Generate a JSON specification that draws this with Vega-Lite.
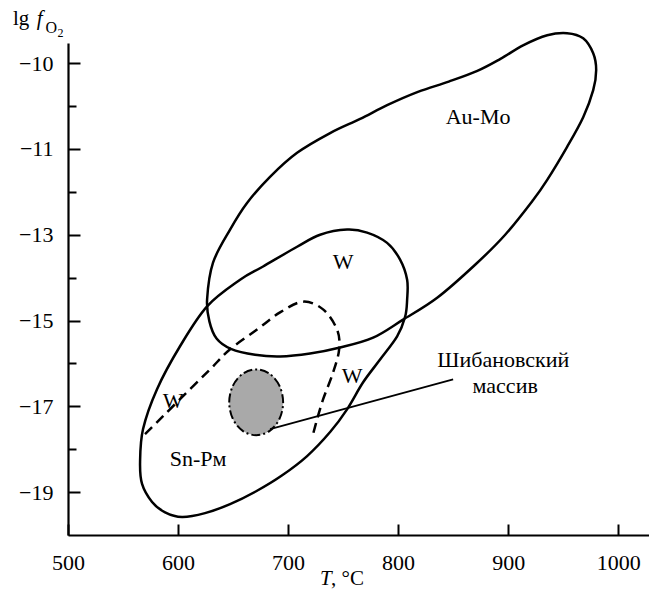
{
  "$schema": "https://vega.github.io/schema/vega-lite/v6.json",
  "width": 581,
  "height": 492,
  "autosize": {"type": "none"},
  "padding": {"left": 68, "top": 43, "right": 0, "bottom": 57},
  "config": {
    "view": {"stroke": null},
    "axis": {"grid": false, "domainColor": "#000", "domainWidth": 2.2, "tickColor": "#000", "tickWidth": 2, "labelColor": "#000", "labelFont": "Liberation Serif", "labelFontSize": 22, "title": null},
    "text": {"font": "Liberation Serif", "color": "#000"}
  },
  "datasets": {
    "curves": [
      {"shape": "AuMo", "i": 0, "T": 626.4, "v": -14.51},
      {"shape": "AuMo", "i": 1, "T": 631.8, "v": -13.65},
      {"shape": "AuMo", "i": 2, "T": 647.3, "v": -12.88},
      {"shape": "AuMo", "i": 3, "T": 662.7, "v": -12.26},
      {"shape": "AuMo", "i": 4, "T": 683.6, "v": -11.65},
      {"shape": "AuMo", "i": 5, "T": 708.2, "v": -11.09},
      {"shape": "AuMo", "i": 6, "T": 738.2, "v": -10.63},
      {"shape": "AuMo", "i": 7, "T": 765.5, "v": -10.30},
      {"shape": "AuMo", "i": 8, "T": 790.0, "v": -9.98},
      {"shape": "AuMo", "i": 9, "T": 818.0, "v": -9.67},
      {"shape": "AuMo", "i": 10, "T": 846.0, "v": -9.43},
      {"shape": "AuMo", "i": 11, "T": 872.0, "v": -9.18},
      {"shape": "AuMo", "i": 12, "T": 893.0, "v": -8.90},
      {"shape": "AuMo", "i": 13, "T": 914.0, "v": -8.58},
      {"shape": "AuMo", "i": 14, "T": 935.5, "v": -8.35},
      {"shape": "AuMo", "i": 15, "T": 953.6, "v": -8.30},
      {"shape": "AuMo", "i": 16, "T": 968.2, "v": -8.42},
      {"shape": "AuMo", "i": 17, "T": 977.3, "v": -8.77},
      {"shape": "AuMo", "i": 18, "T": 980.0, "v": -9.16},
      {"shape": "AuMo", "i": 19, "T": 977.3, "v": -9.63},
      {"shape": "AuMo", "i": 20, "T": 968.2, "v": -10.26},
      {"shape": "AuMo", "i": 21, "T": 953.6, "v": -10.95},
      {"shape": "AuMo", "i": 22, "T": 935.5, "v": -11.72},
      {"shape": "AuMo", "i": 23, "T": 922.7, "v": -12.19},
      {"shape": "AuMo", "i": 24, "T": 897.3, "v": -13.0},
      {"shape": "AuMo", "i": 25, "T": 870.0, "v": -13.70},
      {"shape": "AuMo", "i": 26, "T": 835.5, "v": -14.47},
      {"shape": "AuMo", "i": 27, "T": 804.5, "v": -14.98},
      {"shape": "AuMo", "i": 28, "T": 777.3, "v": -15.40},
      {"shape": "AuMo", "i": 29, "T": 747.3, "v": -15.63},
      {"shape": "AuMo", "i": 30, "T": 720.0, "v": -15.77},
      {"shape": "AuMo", "i": 31, "T": 692.7, "v": -15.84},
      {"shape": "AuMo", "i": 32, "T": 670.0, "v": -15.80},
      {"shape": "AuMo", "i": 33, "T": 648.0, "v": -15.66},
      {"shape": "AuMo", "i": 34, "T": 635.0, "v": -15.42},
      {"shape": "AuMo", "i": 35, "T": 628.5, "v": -15.02},
      {"shape": "WSn", "i": 0, "T": 565.5, "v": -18.30},
      {"shape": "WSn", "i": 1, "T": 568.2, "v": -17.53},
      {"shape": "WSn", "i": 2, "T": 580.9, "v": -16.60},
      {"shape": "WSn", "i": 3, "T": 601.8, "v": -15.60},
      {"shape": "WSn", "i": 4, "T": 626.4, "v": -14.67},
      {"shape": "WSn", "i": 5, "T": 656.4, "v": -14.05},
      {"shape": "WSn", "i": 6, "T": 677.3, "v": -13.74},
      {"shape": "WSn", "i": 7, "T": 708.2, "v": -13.28},
      {"shape": "WSn", "i": 8, "T": 729.1, "v": -13.0},
      {"shape": "WSn", "i": 9, "T": 753.6, "v": -12.88},
      {"shape": "WSn", "i": 10, "T": 771.8, "v": -12.95},
      {"shape": "WSn", "i": 11, "T": 790.0, "v": -13.19},
      {"shape": "WSn", "i": 12, "T": 801.8, "v": -13.58},
      {"shape": "WSn", "i": 13, "T": 808.2, "v": -14.05},
      {"shape": "WSn", "i": 14, "T": 808.2, "v": -14.51},
      {"shape": "WSn", "i": 15, "T": 806.4, "v": -14.91},
      {"shape": "WSn", "i": 16, "T": 799.1, "v": -15.37},
      {"shape": "WSn", "i": 17, "T": 783.6, "v": -15.91},
      {"shape": "WSn", "i": 18, "T": 768.2, "v": -16.44},
      {"shape": "WSn", "i": 19, "T": 753.6, "v": -17.07},
      {"shape": "WSn", "i": 20, "T": 738.2, "v": -17.60},
      {"shape": "WSn", "i": 21, "T": 717.3, "v": -18.16},
      {"shape": "WSn", "i": 22, "T": 694.0, "v": -18.62},
      {"shape": "WSn", "i": 23, "T": 671.0, "v": -18.98},
      {"shape": "WSn", "i": 24, "T": 647.3, "v": -19.28},
      {"shape": "WSn", "i": 25, "T": 624.5, "v": -19.49},
      {"shape": "WSn", "i": 26, "T": 603.6, "v": -19.58},
      {"shape": "WSn", "i": 27, "T": 588.2, "v": -19.47},
      {"shape": "WSn", "i": 28, "T": 576.4, "v": -19.23},
      {"shape": "WSn", "i": 29, "T": 567.3, "v": -18.81}
    ],
    "dashed": [
      {"i": 0, "T": 570.0, "v": -17.65},
      {"i": 1, "T": 586.4, "v": -17.23},
      {"i": 2, "T": 608.2, "v": -16.67},
      {"i": 3, "T": 629.1, "v": -16.14},
      {"i": 4, "T": 647.3, "v": -15.67},
      {"i": 5, "T": 671.8, "v": -15.21},
      {"i": 6, "T": 692.7, "v": -14.81},
      {"i": 7, "T": 713.6, "v": -14.56},
      {"i": 8, "T": 731.8, "v": -14.74},
      {"i": 9, "T": 744.5, "v": -15.21},
      {"i": 10, "T": 746.4, "v": -15.67},
      {"i": 11, "T": 740.9, "v": -16.21},
      {"i": 12, "T": 731.8, "v": -16.84},
      {"i": 13, "T": 726.4, "v": -17.30},
      {"i": 14, "T": 722.7, "v": -17.65}
    ],
    "blob": [
      {"T": 646.5, "top": -16.907, "bottom": -16.907},
      {"T": 647.3, "top": -16.708, "bottom": -17.106},
      {"T": 649.8, "top": -16.523, "bottom": -17.291},
      {"T": 658.8, "top": -16.243, "bottom": -17.571},
      {"T": 671.0, "top": -16.140, "bottom": -17.674},
      {"T": 683.3, "top": -16.243, "bottom": -17.571},
      {"T": 692.2, "top": -16.523, "bottom": -17.291},
      {"T": 694.7, "top": -16.708, "bottom": -17.106},
      {"T": 695.5, "top": -16.907, "bottom": -16.907}
    ],
    "blobEdge": [
      {"i": 0, "T": 695.5, "v": -16.907},
      {"i": 1, "T": 692.2, "v": -16.523},
      {"i": 2, "T": 683.3, "v": -16.243},
      {"i": 3, "T": 671.0, "v": -16.140},
      {"i": 4, "T": 658.8, "v": -16.243},
      {"i": 5, "T": 649.8, "v": -16.523},
      {"i": 6, "T": 646.5, "v": -16.907},
      {"i": 7, "T": 649.8, "v": -17.291},
      {"i": 8, "T": 658.8, "v": -17.571},
      {"i": 9, "T": 671.0, "v": -17.674},
      {"i": 10, "T": 683.3, "v": -17.571},
      {"i": 11, "T": 692.2, "v": -17.291}
    ],
    "leader": [
      {"T": 683.6, "v": -17.53},
      {"T": 850.0, "v": -16.37}
    ],
    "labels": [
      {"T": 872.7, "v": -10.26, "text": "Au-Mo"},
      {"T": 750.0, "v": -13.63, "text": "W"},
      {"T": 758.2, "v": -16.30, "text": "W"},
      {"T": 595.5, "v": -16.88, "text": "W"},
      {"T": 618.2, "v": -18.23, "text": "Sn-Рм"},
      {"T": 895.5, "v": -15.91, "text": "Шибановский"},
      {"T": 897.3, "v": -16.53, "text": "массив"}
    ],
    "titleNormal": [
      {"T": 450.0, "v": -8.116, "text": "lg"},
      {"T": 739.1, "v": -21.16, "text": ", °C"}
    ],
    "titleItalic": [
      {"T": 471.5, "v": -8.116, "text": "f"},
      {"T": 729.1, "v": -21.16, "text": "T"}
    ],
    "titleSubO": [
      {"T": 479.5, "v": -8.302, "text": "O"}
    ],
    "titleSub2": [
      {"T": 490.5, "v": -8.39, "text": "2"}
    ]
  },
  "encoding": {
    "x": {
      "field": "T", "type": "quantitative",
      "scale": {"domain": [500, 1028], "nice": false, "zero": false},
      "axis": {"values": [500, 600, 700, 800, 900, 1000], "format": "d", "tickSize": -11, "labelPadding": 28, "labelFlush": false, "labelOverlap": false}
    }
  },
  "layer": [
    {
      "data": {"name": "curves"},
      "mark": {"type": "line", "interpolate": "cardinal-closed", "stroke": "#000", "strokeWidth": 2.5},
      "encoding": {
        "y": {"field": "v", "type": "quantitative", "scale": {"domain": [-20, -8.53], "nice": false, "zero": false},
          "axis": {"orient": "left", "values": [-9, -11, -13, -15, -17, -19], "tickSize": -12, "labelPadding": 27, "labelExpr": "datum.value == -9 ? '−10' : '−' + abs(datum.value)", "labelFlush": false, "labelOverlap": false}},
        "detail": {"field": "shape"},
        "order": {"field": "i", "type": "quantitative"}
      }
    },
    {
      "data": {"name": "blob"},
      "mark": {"type": "area", "interpolate": "monotone", "fill": "#a9a9a9", "opacity": 1},
      "encoding": {
        "y": {"field": "top", "type": "quantitative", "scale": {"domain": [-20, -8.53], "nice": false, "zero": false}, "axis": null},
        "y2": {"field": "bottom"}
      }
    },
    {
      "data": {"name": "blobEdge"},
      "mark": {"type": "line", "interpolate": "cardinal-closed", "stroke": "#000", "strokeWidth": 2, "strokeDash": [9, 3, 2, 3]},
      "encoding": {
        "y": {"field": "v", "type": "quantitative", "scale": {"domain": [-20, -8.53], "nice": false, "zero": false}, "axis": null},
        "order": {"field": "i", "type": "quantitative"}
      }
    },
    {
      "data": {"name": "dashed"},
      "mark": {"type": "line", "interpolate": "cardinal", "stroke": "#000", "strokeWidth": 2.5, "strokeDash": [10, 6]},
      "encoding": {
        "y": {"field": "v", "type": "quantitative", "scale": {"domain": [-20, -8.53], "nice": false, "zero": false}, "axis": null},
        "order": {"field": "i", "type": "quantitative"}
      }
    },
    {
      "data": {"name": "leader"},
      "mark": {"type": "line", "stroke": "#000", "strokeWidth": 1.8},
      "encoding": {
        "y": {"field": "v", "type": "quantitative", "scale": {"domain": [-20, -8.53], "nice": false, "zero": false},
          "axis": {"orient": "left", "values": [-10, -12, -14, -16, -18], "tickSize": -8, "labels": false, "domain": false}}
      }
    },
    {
      "data": {"name": "labels"},
      "mark": {"type": "text", "fontSize": 22},
      "encoding": {
        "y": {"field": "v", "type": "quantitative", "scale": {"domain": [-20, -8.53], "nice": false, "zero": false}, "axis": null},
        "text": {"field": "text"}
      }
    },
    {
      "data": {"name": "titleNormal"},
      "mark": {"type": "text", "fontSize": 21, "align": "left", "baseline": "alphabetic"},
      "encoding": {
        "y": {"field": "v", "type": "quantitative", "scale": {"domain": [-20, -8.53], "nice": false, "zero": false}, "axis": null},
        "text": {"field": "text"}
      }
    },
    {
      "data": {"name": "titleItalic"},
      "mark": {"type": "text", "fontSize": 21, "fontStyle": "italic", "align": "left", "baseline": "alphabetic"},
      "encoding": {
        "y": {"field": "v", "type": "quantitative", "scale": {"domain": [-20, -8.53], "nice": false, "zero": false}, "axis": null},
        "text": {"field": "text"}
      }
    },
    {
      "data": {"name": "titleSubO"},
      "mark": {"type": "text", "fontSize": 16, "align": "left", "baseline": "alphabetic"},
      "encoding": {
        "y": {"field": "v", "type": "quantitative", "scale": {"domain": [-20, -8.53], "nice": false, "zero": false}, "axis": null},
        "text": {"field": "text"}
      }
    },
    {
      "data": {"name": "titleSub2"},
      "mark": {"type": "text", "fontSize": 12, "align": "left", "baseline": "alphabetic"},
      "encoding": {
        "y": {"field": "v", "type": "quantitative", "scale": {"domain": [-20, -8.53], "nice": false, "zero": false}, "axis": null},
        "text": {"field": "text"}
      }
    }
  ],
  "resolve": {"axis": {"y": "independent"}}
}
